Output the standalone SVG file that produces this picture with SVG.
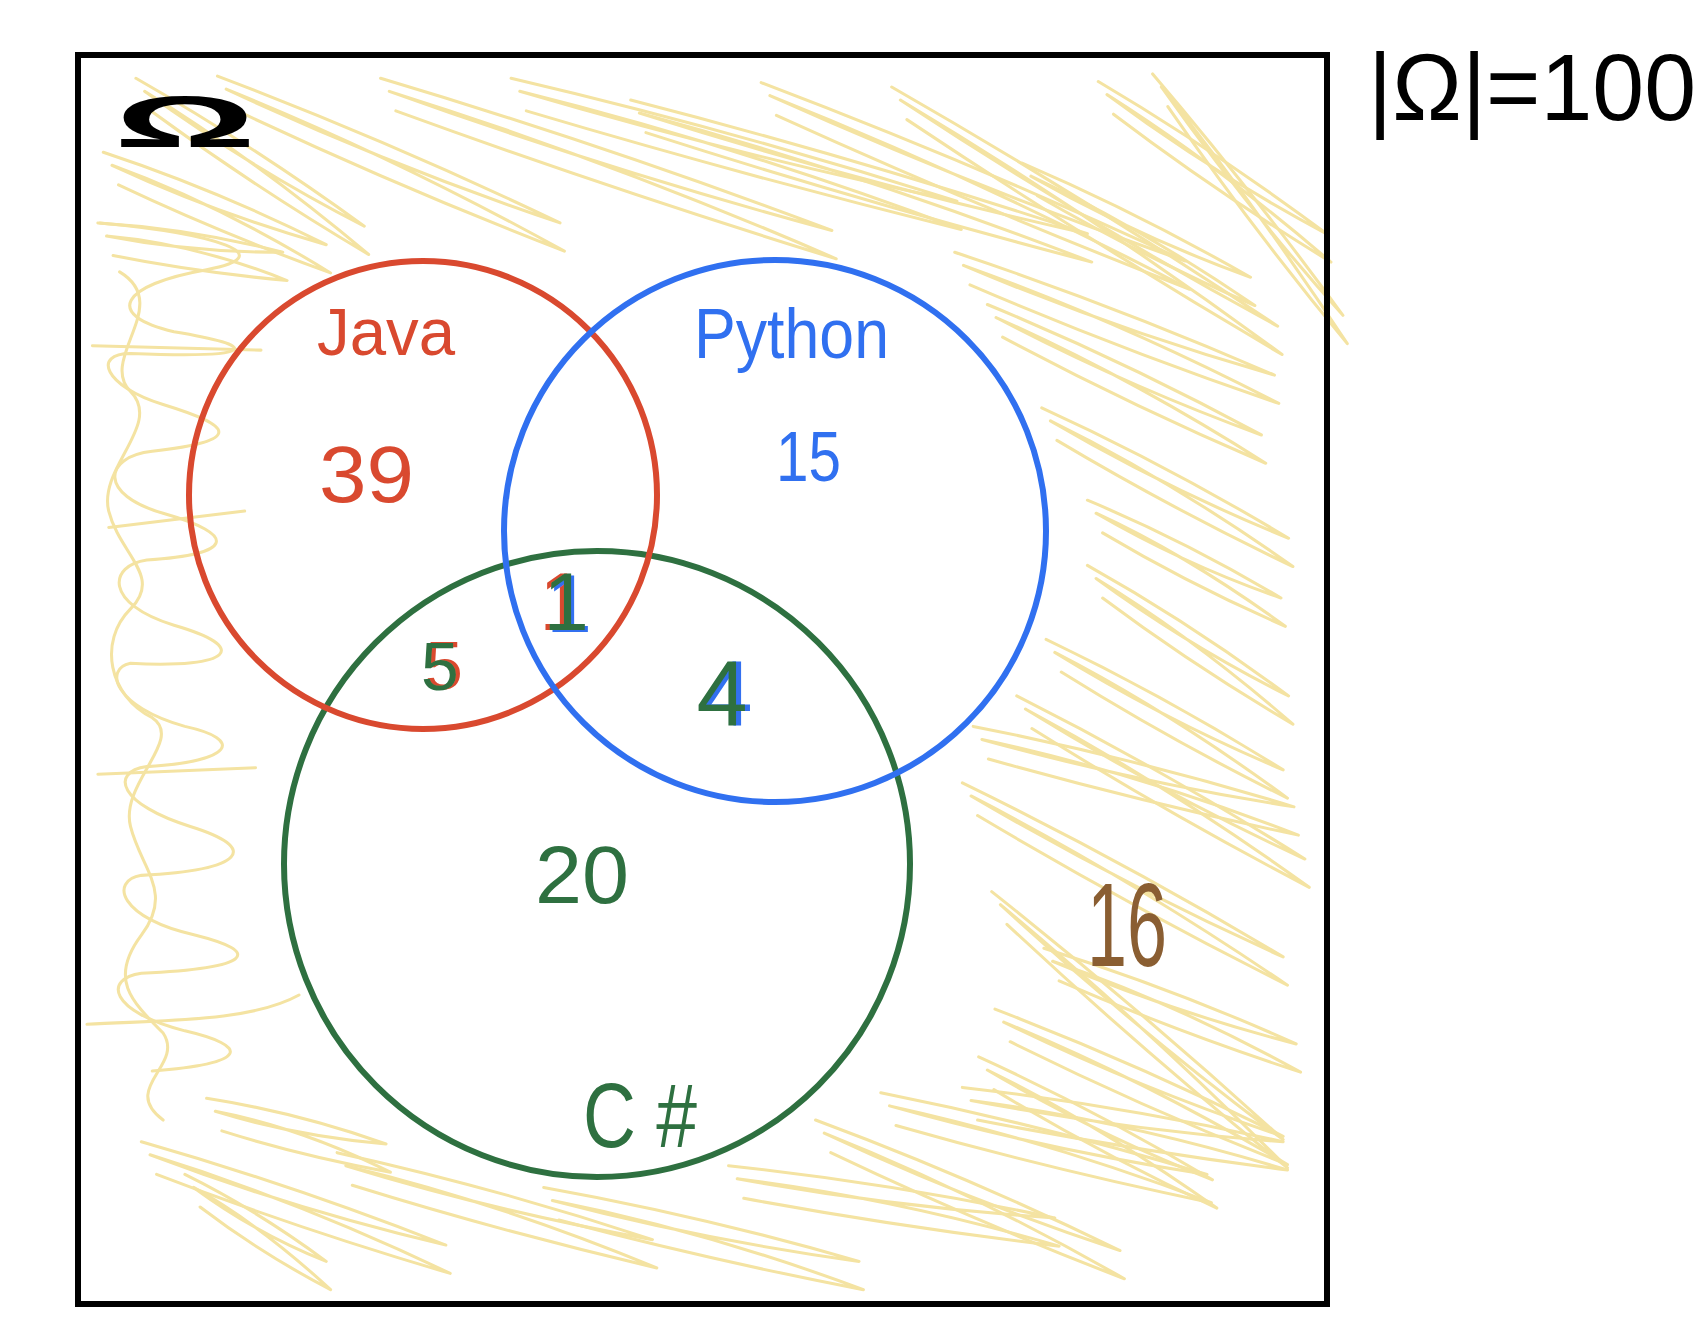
<svg xmlns="http://www.w3.org/2000/svg" width="1705" height="1321" viewBox="0 0 1705 1321">
<style>
.scr{fill:none;stroke:#f4e3a2;stroke-width:2.8;stroke-linejoin:round;stroke-linecap:round}
.hand{font-family:"Liberation Sans","Noto Sans",Arial,sans-serif}
.set{fill:none;stroke-width:6}
</style>
<defs>
<filter id="fRedL" x="-50%" y="-20%" width="200%" height="140%">
<feFlood flood-color="#d9492f"/><feComposite in2="SourceAlpha" operator="in"/><feOffset dx="-4" dy="0" result="r"/>
<feFlood flood-color="#3070f0"/><feComposite in2="SourceAlpha" operator="in"/><feOffset dx="3" dy="2" result="b"/>
<feMerge><feMergeNode in="r"/><feMergeNode in="b"/><feMergeNode in="SourceGraphic"/></feMerge>
</filter>
<filter id="fRedR" x="-50%" y="-20%" width="200%" height="140%">
<feFlood flood-color="#d9492f"/><feComposite in2="SourceAlpha" operator="in"/><feOffset dx="4" dy="-1" result="r"/>
<feMerge><feMergeNode in="r"/><feMergeNode in="SourceGraphic"/></feMerge>
</filter>
<filter id="fBlueR" x="-50%" y="-20%" width="200%" height="140%">
<feFlood flood-color="#3070f0"/><feComposite in2="SourceAlpha" operator="in"/><feOffset dx="5" dy="0" result="b"/>
<feMerge><feMergeNode in="b"/><feMergeNode in="SourceGraphic"/></feMerge>
</filter>
</defs>
<rect x="0" y="0" width="1705" height="1321" fill="#ffffff"/>
<g id="shading" transform="scale(1.0874)">
<path class="scr" d="M125,72 Q230,132 335,208 Q230,154 133,84 Q234,146 339,234 Q234,172 139,102"/>
<path class="scr" d="M90,205 Q175,210 260,232 Q175,232 98,217 Q179,224 264,258 Q179,250 104,235"/>
<path class="scr" d="M95,140 Q198,174 300,225 Q198,196 103,152 Q202,188 304,251 Q202,214 109,170"/>
<path class="scr" d="M200,70 Q358,130 515,205 Q358,152 208,82 Q362,144 519,231 Q362,170 214,100"/>
<path class="scr" d="M350,72 Q558,134 765,212 Q558,156 358,84 Q562,148 769,238 Q562,174 364,102"/>
<path class="scr" d="M470,72 Q675,120 880,185 Q675,142 478,84 Q679,134 884,211 Q679,160 484,102"/>
<path class="scr" d="M580,92 Q790,146 1000,215 Q790,168 588,104 Q794,160 1004,241 Q794,186 594,122"/>
<path class="scr" d="M700,76 Q895,150 1090,240 Q895,172 708,88 Q899,164 1094,266 Q899,190 714,106"/>
<path class="scr" d="M820,80 Q998,182 1175,300 Q998,204 828,92 Q1002,196 1179,326 Q1002,222 834,110"/>
<path class="scr" d="M1010,75 Q1115,137 1220,215 Q1115,159 1018,87 Q1119,151 1224,241 Q1119,177 1024,105"/>
<path class="scr" d="M1060,68 Q1148,171 1235,290 Q1148,193 1068,80 Q1152,185 1239,316 Q1152,211 1074,98"/>
<path class="scr" d="M940,150 Q1045,195 1150,255 Q1045,217 948,162 Q1049,209 1154,281 Q1049,235 954,180"/>
<path class="scr" d="M878,232 Q1025,281 1172,345 Q1025,303 886,244 Q1029,295 1176,371 Q1029,321 892,262"/>
<path class="scr" d="M908,280 Q1034,332 1160,400 Q1034,354 916,292 Q1038,346 1164,426 Q1038,372 922,310"/>
<path class="scr" d="M958,375 Q1072,427 1185,495 Q1072,449 966,387 Q1076,441 1189,521 Q1076,467 972,405"/>
<path class="scr" d="M1000,460 Q1089,497 1178,550 Q1089,519 1008,472 Q1093,511 1182,576 Q1093,537 1014,490"/>
<path class="scr" d="M1000,520 Q1093,572 1185,640 Q1093,594 1008,532 Q1097,586 1189,666 Q1097,612 1014,550"/>
<path class="scr" d="M962,588 Q1071,640 1180,708 Q1071,662 970,600 Q1075,654 1184,734 Q1075,680 976,618"/>
<path class="scr" d="M895,668 Q1043,697 1190,742 Q1043,719 903,680 Q1047,711 1194,768 Q1047,737 909,698"/>
<path class="scr" d="M935,640 Q1068,707 1200,790 Q1068,729 943,652 Q1072,721 1204,816 Q1072,747 949,670"/>
<path class="scr" d="M885,720 Q1033,792 1180,880 Q1033,814 893,732 Q1037,806 1184,906 Q1037,832 899,750"/>
<path class="scr" d="M912,820 Q1046,926 1180,1048 Q1046,948 920,832 Q1050,940 1184,1074 Q1050,966 926,850"/>
<path class="scr" d="M960,872 Q1076,908 1192,960 Q1076,930 968,884 Q1080,922 1196,986 Q1080,948 974,902"/>
<path class="scr" d="M915,928 Q1048,979 1180,1045 Q1048,1001 923,940 Q1052,993 1184,1071 Q1052,1019 929,958"/>
<path class="scr" d="M900,972 Q1008,1021 1115,1085 Q1008,1043 908,984 Q1012,1035 1119,1111 Q1012,1061 914,1002"/>
<path class="scr" d="M130,1050 Q270,1090 410,1145 Q270,1112 138,1062 Q274,1104 414,1171 Q274,1130 144,1080"/>
<path class="scr" d="M170,1080 Q235,1112 300,1160 Q235,1134 178,1092 Q239,1126 304,1186 Q239,1152 184,1110"/>
<path class="scr" d="M310,1060 Q455,1092 600,1140 Q455,1114 318,1072 Q459,1106 604,1166 Q459,1132 324,1090"/>
<path class="scr" d="M500,1092 Q645,1118 790,1160 Q645,1140 508,1104 Q649,1132 794,1186 Q649,1158 514,1122"/>
<path class="scr" d="M670,1072 Q820,1088 970,1120 Q820,1110 678,1084 Q824,1102 974,1146 Q824,1128 684,1102"/>
<path class="scr" d="M750,1030 Q890,1082 1030,1150 Q890,1104 758,1042 Q894,1096 1034,1176 Q894,1122 764,1060"/>
<path class="scr" d="M810,1005 Q960,1035 1110,1080 Q960,1057 818,1017 Q964,1049 1114,1106 Q964,1075 824,1035"/>
<path class="scr" d="M885,1000 Q1033,1017 1180,1050 Q1033,1039 893,1012 Q1037,1031 1184,1076 Q1037,1057 899,1030"/>
<path class="scr" d="M190,1010 Q273,1023 355,1052 Q273,1045 198,1022 Q277,1037 359,1078 Q277,1063 204,1040"/>
<path class="scr" d="M92,205 C200,215 260,235 190,248 C110,262 95,290 160,305 C240,318 240,330 120,325 C85,325 95,355 150,372 C215,392 225,405 140,415 C95,420 90,455 150,472 C220,492 215,510 135,515 C100,520 95,555 160,575 C230,595 215,615 120,610 C95,615 105,650 170,668 C225,680 215,700 135,705 C100,710 110,740 175,760 C240,780 225,800 130,805 C100,810 110,845 180,860 C240,875 235,890 130,895 C95,900 100,930 170,948 C230,962 230,978 140,985"/>
<path class="scr" d="M110,250 C160,280 90,330 120,360 C150,390 90,430 100,470 C110,510 150,530 120,560 C90,590 100,640 140,660 C170,680 110,720 120,760 C130,800 160,820 130,860 C100,900 120,920 150,950 C170,980 110,1000 150,1030"/>
<path class="scr" d="M80,942 C150,938 230,940 275,915"/>
<path class="scr" d="M90,712 L235,706"/>
<path class="scr" d="M100,485 L225,470"/>
<path class="scr" d="M85,318 L240,322"/>
</g>
<g id="universe">
<rect x="78" y="55" width="1249" height="1249" fill="none" stroke="#000" stroke-width="6"/>
<text class="hand" x="114" y="147" font-size="72" font-weight="bold" textLength="142" lengthAdjust="spacingAndGlyphs" fill="#000">Ω</text>
</g>
<g id="cardinality">
<text class="hand" x="1368" y="120" font-size="95" textLength="328" lengthAdjust="spacingAndGlyphs" fill="#000">|Ω|=100</text>
</g>
<g id="csharp">
<circle class="set" cx="597" cy="864" r="313" stroke="#2e7040"/>
<text class="hand" x="583" y="1147" font-size="90" textLength="114" lengthAdjust="spacingAndGlyphs" fill="#2e7040">C #</text>
</g>
<g id="java">
<circle class="set" cx="423" cy="495" r="234" stroke="#d9492f"/>
<text class="hand" x="317" y="355" font-size="66" textLength="138" lengthAdjust="spacingAndGlyphs" fill="#d9492f">Java</text>
</g>
<g id="python">
<circle class="set" cx="775" cy="531" r="271" stroke="#3070f0"/>
<text class="hand" x="694" y="358" font-size="70" textLength="195" lengthAdjust="spacingAndGlyphs" fill="#3070f0">Python</text>
</g>
<g id="counts">
<text class="hand" x="319" y="502" font-size="80" textLength="95" lengthAdjust="spacingAndGlyphs" fill="#d9492f">39</text>
<text class="hand" x="776" y="481" font-size="70" textLength="65" lengthAdjust="spacingAndGlyphs" fill="#3070f0">15</text>
<text class="hand" x="566" y="630" font-size="82" text-anchor="middle" fill="#2e7040" filter="url(#fRedL)">1</text>
<text class="hand" x="440" y="690" font-size="68" text-anchor="middle" fill="#2e7040" filter="url(#fRedR)">5</text>
<text class="hand" x="722" y="725" font-size="92" text-anchor="middle" fill="#2e7040" filter="url(#fBlueR)">4</text>
<text class="hand" x="535" y="903" font-size="82" textLength="94" lengthAdjust="spacingAndGlyphs" fill="#2e7040">20</text>
<text class="hand" x="1087" y="966" font-size="118" textLength="80" lengthAdjust="spacingAndGlyphs" fill="#8a5e32">16</text>
</g>
</svg>
